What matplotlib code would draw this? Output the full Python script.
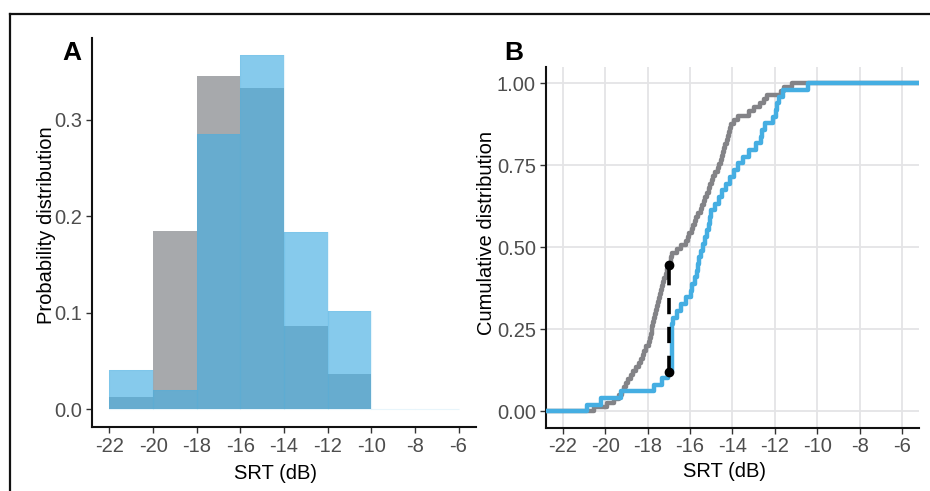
import numpy as np
import matplotlib
matplotlib.use("Agg")
import matplotlib.pyplot as plt
from matplotlib.lines import Line2D

plt.rcParams['font.family'] = ['Liberation Sans', 'DejaVu Sans']
plt.rcParams['axes.unicode_minus'] = False

# ---- data (SRT values in dB, read from the ECDF steps) ----
gray_srt = [-20.5, -19.9, -19.6, -19.35, -19.2, -19.1, -19.0, -18.9, -18.8, -18.7,
            -18.55, -18.4, -18.3, -18.2, -18.15, -18.05, -17.95, -17.9, -17.85, -17.8,
            -17.8, -17.75, -17.7, -17.65, -17.6, -17.55, -17.5, -17.45, -17.4, -17.35,
            -17.3, -17.25, -17.2, -17.15, -17.1, -17.05, -16.9, -16.9, -16.85, -16.6,
            -16.4, -16.2, -16.1, -16.05, -15.9, -15.85, -15.75, -15.7, -15.6, -15.5,
            -15.45, -15.35, -15.3, -15.2, -15.1, -15.05, -14.95, -14.9, -14.8, -14.7,
            -14.65, -14.55, -14.5, -14.45, -14.4, -14.35, -14.25, -14.2, -14.15, -14.1,
            -14.05, -13.9, -13.75, -13.2, -13.0, -12.7, -12.5, -12.35, -11.7, -11.55,
            -11.2]
blue_srt = [-20.85, -20.2, -19.25, -17.7, -17.3, -17.05,
            -16.85, -16.85, -16.85, -16.85, -16.85, -16.85, -16.85, -16.8,
            -16.6, -16.4, -16.2, -15.95, -15.9, -15.75, -15.65, -15.6, -15.55, -15.5,
            -15.4, -15.3, -15.2, -15.1, -15.05, -15.0, -14.8, -14.65, -14.5, -14.3,
            -14.1, -13.9, -13.75, -13.5, -13.2, -12.9, -12.65, -12.6, -12.45, -12.1,
            -11.95, -11.9, -11.8, -11.6, -10.45]
bin_edges = [-22, -20, -18, -16, -14, -12, -10, -8, -6]
x_ticks = [-22, -20, -18, -16, -14, -12, -10, -8, -6]
a_yticks = [0.0, 0.1, 0.2, 0.3]
a_yticklabels = ["0.0", "0.1", "0.2", "0.3"]
b_yticks = [0.0, 0.25, 0.5, 0.75, 1.0]
b_yticklabels = ["0.00", "0.25", "0.50", "0.75", "1.00"]
ks_x = -17.0
ks_lo = 0.12
ks_hi = 0.445

GRAY_FILL = "#A7A9AC"
BLUE = "#45AEE2"
GRAY_LINE = "#838387"
TICK_COL = "#4D4D4D"

W, H = 930, 491
fig = plt.figure(figsize=(W / 100, H / 100), dpi=100)

def fx(px):
    return px / W

def fy(py):
    return 1 - py / H

# frame lines (top and left)
fig.add_artist(Line2D([fx(10), 1.0], [fy(14), fy(14)], color="#111111", lw=1.6))
fig.add_artist(Line2D([fx(10), fx(10)], [fy(14), 0.0], color="#111111", lw=1.6))

xlim = (-22.8, -5.2)

def style_axis(ax):
    for s in ["top", "right"]:
        ax.spines[s].set_visible(False)
    for s in ["left", "bottom"]:
        ax.spines[s].set_linewidth(1.5)
        ax.spines[s].set_color("#111111")
    ax.tick_params(axis="both", colors="#333333", labelcolor=TICK_COL,
                   labelsize=14.5, length=4, width=1.0, pad=3)
    ax.set_xticks(x_ticks)
    ax.set_xticklabels([str(t) for t in x_ticks])
    ax.set_xlim(*xlim)

# ---- Panel A ----
axA = fig.add_axes([fx(92), fy(427), fx(476 - 92), (427 - 38) / H])
style_axis(axA)
g_counts, _ = np.histogram(gray_srt, bins=bin_edges)
b_counts, _ = np.histogram(blue_srt, bins=bin_edges)
g_prob = g_counts / len(gray_srt)
b_prob = b_counts / len(blue_srt)
lefts = np.array(bin_edges[:-1])
widths = np.diff(bin_edges)
axA.bar(lefts, g_prob, width=widths, align="edge", color=GRAY_FILL, linewidth=0)
axA.bar(lefts, b_prob, width=widths, align="edge", color=BLUE, alpha=0.65, linewidth=0)
axA.bar(lefts, b_prob, width=widths, align="edge", fill=False,
        edgecolor=BLUE, alpha=0.12, linewidth=0.8)
axA.set_ylim(-0.0183, 0.385)
axA.set_yticks(a_yticks)
axA.set_yticklabels(a_yticklabels)
axA.set_xlabel("SRT (dB)", fontsize=14.5, labelpad=1)
axA.set_ylabel("Probability distribution", fontsize=14.5)
axA.xaxis.set_label_coords(0.477, -0.095)
axA.yaxis.set_label_coords(-0.094, 0.52)
fig.text(fx(62), fy(60), "A", fontsize=19, fontweight="bold", ha="left", va="baseline")

# ---- Panel B ----
axB = fig.add_axes([fx(545.7), fy(427.7), fx(919 - 545.7), (427.7 - 66.7) / H])
style_axis(axB)
axB.set_ylim(-0.05, 1.05)
axB.set_yticks(b_yticks)
axB.set_yticklabels(b_yticklabels)
axB.grid(True, color="#E4E4E6", linewidth=1.3)
axB.set_axisbelow(True)

def ecdf_xy(vals):
    v = np.sort(np.asarray(vals))
    n = len(v)
    xs = np.concatenate([[xlim[0] - 5], v, [xlim[1] + 5]])
    ys = np.concatenate([[0.0], np.arange(1, n + 1) / n, [1.0]])
    return xs, ys

gx, gy = ecdf_xy(gray_srt)
bx, by = ecdf_xy(blue_srt)
axB.step(gx, gy, where="post", color=GRAY_LINE, lw=3.2, zorder=3)
axB.step(bx, by, where="post", color=BLUE, lw=3.2, zorder=4)
axB.plot([ks_x, ks_x], [ks_lo, ks_hi], color="black", lw=2.6, dashes=(4.5, 3.5), zorder=5)
axB.plot([ks_x, ks_x], [ks_lo, ks_hi], "o", color="black", ms=6, zorder=6)
axB.set_xlabel("SRT (dB)", fontsize=14.5, labelpad=1)
axB.set_ylabel("Cumulative distribution", fontsize=14.5)
axB.xaxis.set_label_coords(0.478, -0.095)
axB.yaxis.set_label_coords(-0.133, 0.54)
fig.text(fx(504), fy(60), "B", fontsize=19, fontweight="bold", ha="left", va="baseline")

fig.savefig("out.png", dpi=100)
